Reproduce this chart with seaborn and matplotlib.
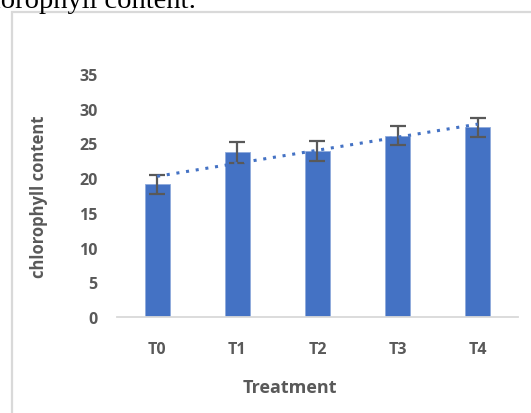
import numpy as np
import pandas as pd
import matplotlib
matplotlib.use("Agg")
import matplotlib.pyplot as plt
import seaborn as sns
from matplotlib.patches import Rectangle

# ----------------------------
# Data
# ----------------------------
treatments = ["T0", "T1", "T2", "T3", "T4"]
chlorophyll = [19.1, 23.7, 23.9, 26.1, 27.3]
errors = [1.4, 1.45, 1.4, 1.4, 1.4]
y_ticks = [0, 5, 10, 15, 20, 25, 30, 35]

BLUE = "#4472C4"
GREY = "#595959"

df = pd.DataFrame({"Treatment": treatments, "chlorophyll": chlorophyll})

sns.set_style("white")
plt.rcParams["font.family"] = ["Open Sans", "DejaVu Sans"]

fig = plt.figure(figsize=(5.31, 4.14), dpi=100)
ax = fig.add_axes([0.2203, 0.2319, 0.7552, 0.587])

sns.barplot(data=df, x="Treatment", y="chlorophyll", order=treatments,
            color=BLUE, width=0.31, saturation=1, ax=ax,
            edgecolor="#8FAADC", linewidth=0.6)

# error bars
x_pos = np.arange(len(treatments))
ax.errorbar(x_pos, chlorophyll, yerr=errors, fmt="none", ecolor=GREY,
            elinewidth=1.6, capsize=5.5, capthick=1.6, zorder=4)

# linear trendline
coef = np.polyfit(x_pos, chlorophyll, 1)
ax.plot(x_pos, np.polyval(coef, x_pos), linestyle=(0, (1, 2.2)),
        color=BLUE, linewidth=2.2, zorder=5)

ax.set_xlim(-0.5, 4.5)
ax.set_ylim(0, 35)
ax.set_yticks(y_ticks)

for s in ["top", "right", "left"]:
    ax.spines[s].set_visible(False)
ax.spines["bottom"].set_color("#D9D9D9")
ax.spines["bottom"].set_linewidth(1.3)

ax.tick_params(axis="both", length=0, colors=GREY, labelsize=11.5)
ax.tick_params(axis="y", pad=14)
ax.tick_params(axis="x", pad=17)
for lab in ax.get_xticklabels() + ax.get_yticklabels():
    lab.set_fontweight("bold")

ax.set_xlabel("Treatment", fontsize=13, fontweight="bold", color=GREY)
ax.xaxis.set_label_coords(0.431, -0.25)
ax.set_ylabel("chlorophyll content", fontsize=12, fontweight="bold", color=GREY)
ax.yaxis.set_label_coords(-0.172, 0.5)

# chart border (cropped screenshot) and clipped caption above it
fig.patches.append(Rectangle((12 / 531, -0.1), 1.2, (414 - 13) / 414 + 0.1,
                             transform=fig.transFigure, fill=False,
                             edgecolor="#D9D9D9", linewidth=1.6))
fig.text(196 / 531, 1 - 8 / 414, "chlorophyll content:", ha="right", va="baseline",
         fontsize=20.5, family="Liberation Serif", color="black")

plt.savefig("out.png", dpi=100)
plt.close()
